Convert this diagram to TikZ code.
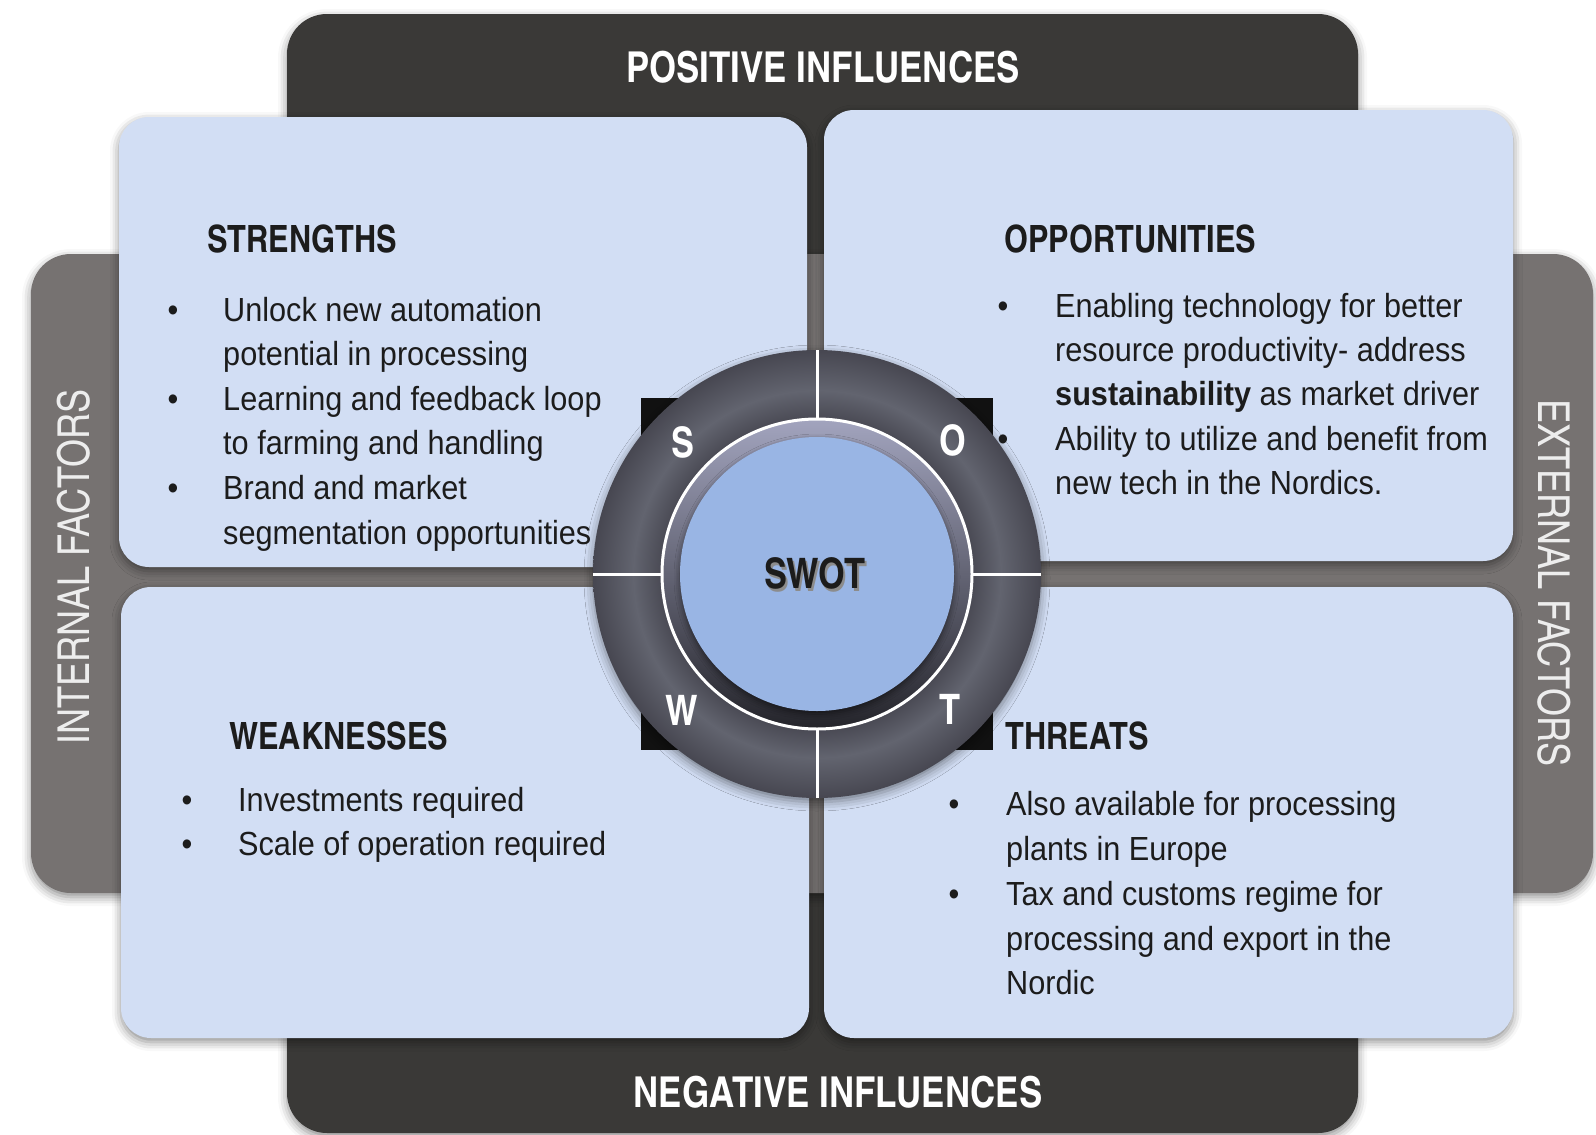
\documentclass[tikz,border=0pt]{standalone}
\usepackage{fontspec}
\setmainfont{texgyreheroscn}[Extension=.otf, UprightFont=*-regular, BoldFont=*-bold, ItalicFont=*-italic, BoldItalicFont=*-bolditalic]
\newfontfamily\bodyfont{Liberation Sans}[FakeStretch=0.918]
\usetikzlibrary{shadows.blur}
\definecolor{darkband}{HTML}{3A3937}
\definecolor{grayband}{HTML}{767271}
\definecolor{boxfill}{HTML}{D2DEF4}
\definecolor{txt}{HTML}{1C1C1C}
\definecolor{sqblack}{HTML}{111111}
\definecolor{ringA}{HTML}{474751}
\definecolor{ringB}{HTML}{62646F}
\definecolor{ringtop}{HTML}{A2A4BE}
\definecolor{ringmid}{HTML}{6C6D80}
\definecolor{ringbot}{HTML}{24242A}
\definecolor{discblue}{HTML}{99B5E4}
\definecolor{sidetxt}{HTML}{EDEDED}
\pgfdeclareradialshading{ringshade}{\pgfpoint{0bp}{0bp}}{color(0bp)=(ringA); color(17bp)=(ringA); color(20.5bp)=(ringB); color(25bp)=(ringA); color(50bp)=(ringA)}
\begin{document}
\begin{tikzpicture}[x=1pt,y=-1pt,
  softshadow/.style={blur shadow={shadow xshift=0pt, shadow yshift=-4pt, shadow blur radius=9pt, shadow opacity=45}},
  body/.style={font=\bodyfont\fontsize{33.4}{40}\selectfont, text=txt, anchor=base west, inner sep=0pt},
  bul/.style={font=\bodyfont\fontsize{33.4}{40}\selectfont, text=txt, anchor=base, inner sep=0pt},
  head/.style={font=\bfseries\fontsize{37.6}{40}\selectfont, text=txt, anchor=base west, inner sep=0pt},
  title/.style={font=\bfseries\fontsize{42.6}{44}\selectfont, text=white, anchor=base, inner sep=0pt},
  side/.style={font=\fontsize{44}{46}\selectfont, text=sidetxt, anchor=center, inner sep=0pt},
  letter/.style={font=\bfseries\fontsize{42}{44}\selectfont, text=white, anchor=center, inner sep=0pt}]
\useasboundingbox (0,0) rectangle (1596,1135);
% bands
\fill[darkband, rounded corners=40, softshadow] (287,14) rectangle (1358,1133);
\fill[grayband, rounded corners=40, softshadow] (31,254) rectangle (1593,893);
% quadrant boxes
\fill[boxfill, rounded corners=30, softshadow] (119,117) rectangle (807,567);
\fill[boxfill, rounded corners=30, softshadow] (824,110) rectangle (1513,561);
\fill[boxfill, rounded corners=30, softshadow] (121,587) rectangle (809,1038);
\fill[boxfill, rounded corners=30, softshadow] (824,587) rectangle (1513,1038);
% centre
\coordinate (c) at (817,574);
\fill[sqblack] (641,398) rectangle (993,750);
\shade[shading=ringshade, softshadow] (c) circle (224);
\draw[white, line width=3pt] (c) ++(0,-224) -- ++(0,69);
\draw[white, line width=3pt] (c) ++(0,224) -- ++(0,-69);
\draw[white, line width=3pt] (c) ++(-224,0) -- ++(69,0);
\draw[white, line width=3pt] (c) ++(224,0) -- ++(-69,0);
\shade[top color=ringtop, middle color=ringmid, bottom color=ringbot] (c) circle (155);
\draw[white, line width=3pt] (c) circle (155);
\fill[discblue, blur shadow={shadow xshift=0pt, shadow yshift=-3pt, shadow blur radius=6pt, shadow opacity=50}] (c) circle (137);
\node[font=\bfseries\fontsize{42}{44}\selectfont, text=black!45, inner sep=0pt] (swotsh) at (817,576) {SWOT};
\node[font=\bfseries\fontsize{42}{44}\selectfont, text=txt, inner sep=0pt] (swot) at (815,573) {SWOT};
\node[letter] (ls) at (683,442) {S};
\node[letter] (lo) at (953,440) {O};
\node[letter] (lw) at (682,710) {W};
\node[letter] (lt) at (950,709) {T};
% titles
\node[title] (pos) at (823,82) {POSITIVE INFLUENCES};
\node[title] (neg) at (838,1107) {NEGATIVE INFLUENCES};
\node[side, rotate=90] (int) at (74,567) {INTERNAL FACTORS};
\node[side, rotate=-90] (ext) at (1554,583) {EXTERNAL FACTORS};
% strengths
\node[head] (sh) at (207,252) {STRENGTHS};
\node[bul] (sb1) at (173,321) {•};
\node[body] (s1) at (223,321) {Unlock new automation};
\node[body] (s2) at (223,365) {potential in processing};
\node[bul] (sb2) at (173,410) {•};
\node[body] (s3) at (223,410) {Learning and feedback loop};
\node[body] (s4) at (223,454) {to farming and handling};
\node[bul] (sb3) at (173,499) {•};
\node[body] (s5) at (223,499) {Brand and market};
\node[body] (s6) at (223,544) {segmentation opportunities};
% opportunities
\node[head] (oh) at (1004,252) {OPPORTUNITIES};
\node[bul] (ob1) at (1003,317) {•};
\node[body] (o1) at (1055,317) {Enabling technology for better};
\node[body] (o2) at (1055,361) {resource productivity- address};
\node[body] (o3) at (1055,405) {\textbf{sustainability} as market driver};
\node[bul] (ob2) at (1003,450) {•};
\node[body] (o4) at (1055,450) {Ability to utilize and benefit from};
\node[body] (o5) at (1055,494) {new tech in the Nordics.};
% weaknesses
\node[head] (wh) at (229,749) {WEAKNESSES};
\node[bul] (wb1) at (187,811) {•};
\node[body] (w1) at (238,811) {Investments required};
\node[bul] (wb2) at (187,855) {•};
\node[body] (w2) at (238,855) {Scale of operation required};
% threats
\node[head] (th) at (1005,749) {THREATS};
\node[bul] (tb1) at (954,815) {•};
\node[body] (t1) at (1006,815) {Also available for processing};
\node[body] (t2) at (1006,860) {plants in Europe};
\node[bul] (tb2) at (954,905) {•};
\node[body] (t3) at (1006,905) {Tax and customs regime for};
\node[body] (t4) at (1006,950) {processing and export in the};
\node[body] (t5) at (1006,994) {Nordic};
\end{tikzpicture}
\end{document}
